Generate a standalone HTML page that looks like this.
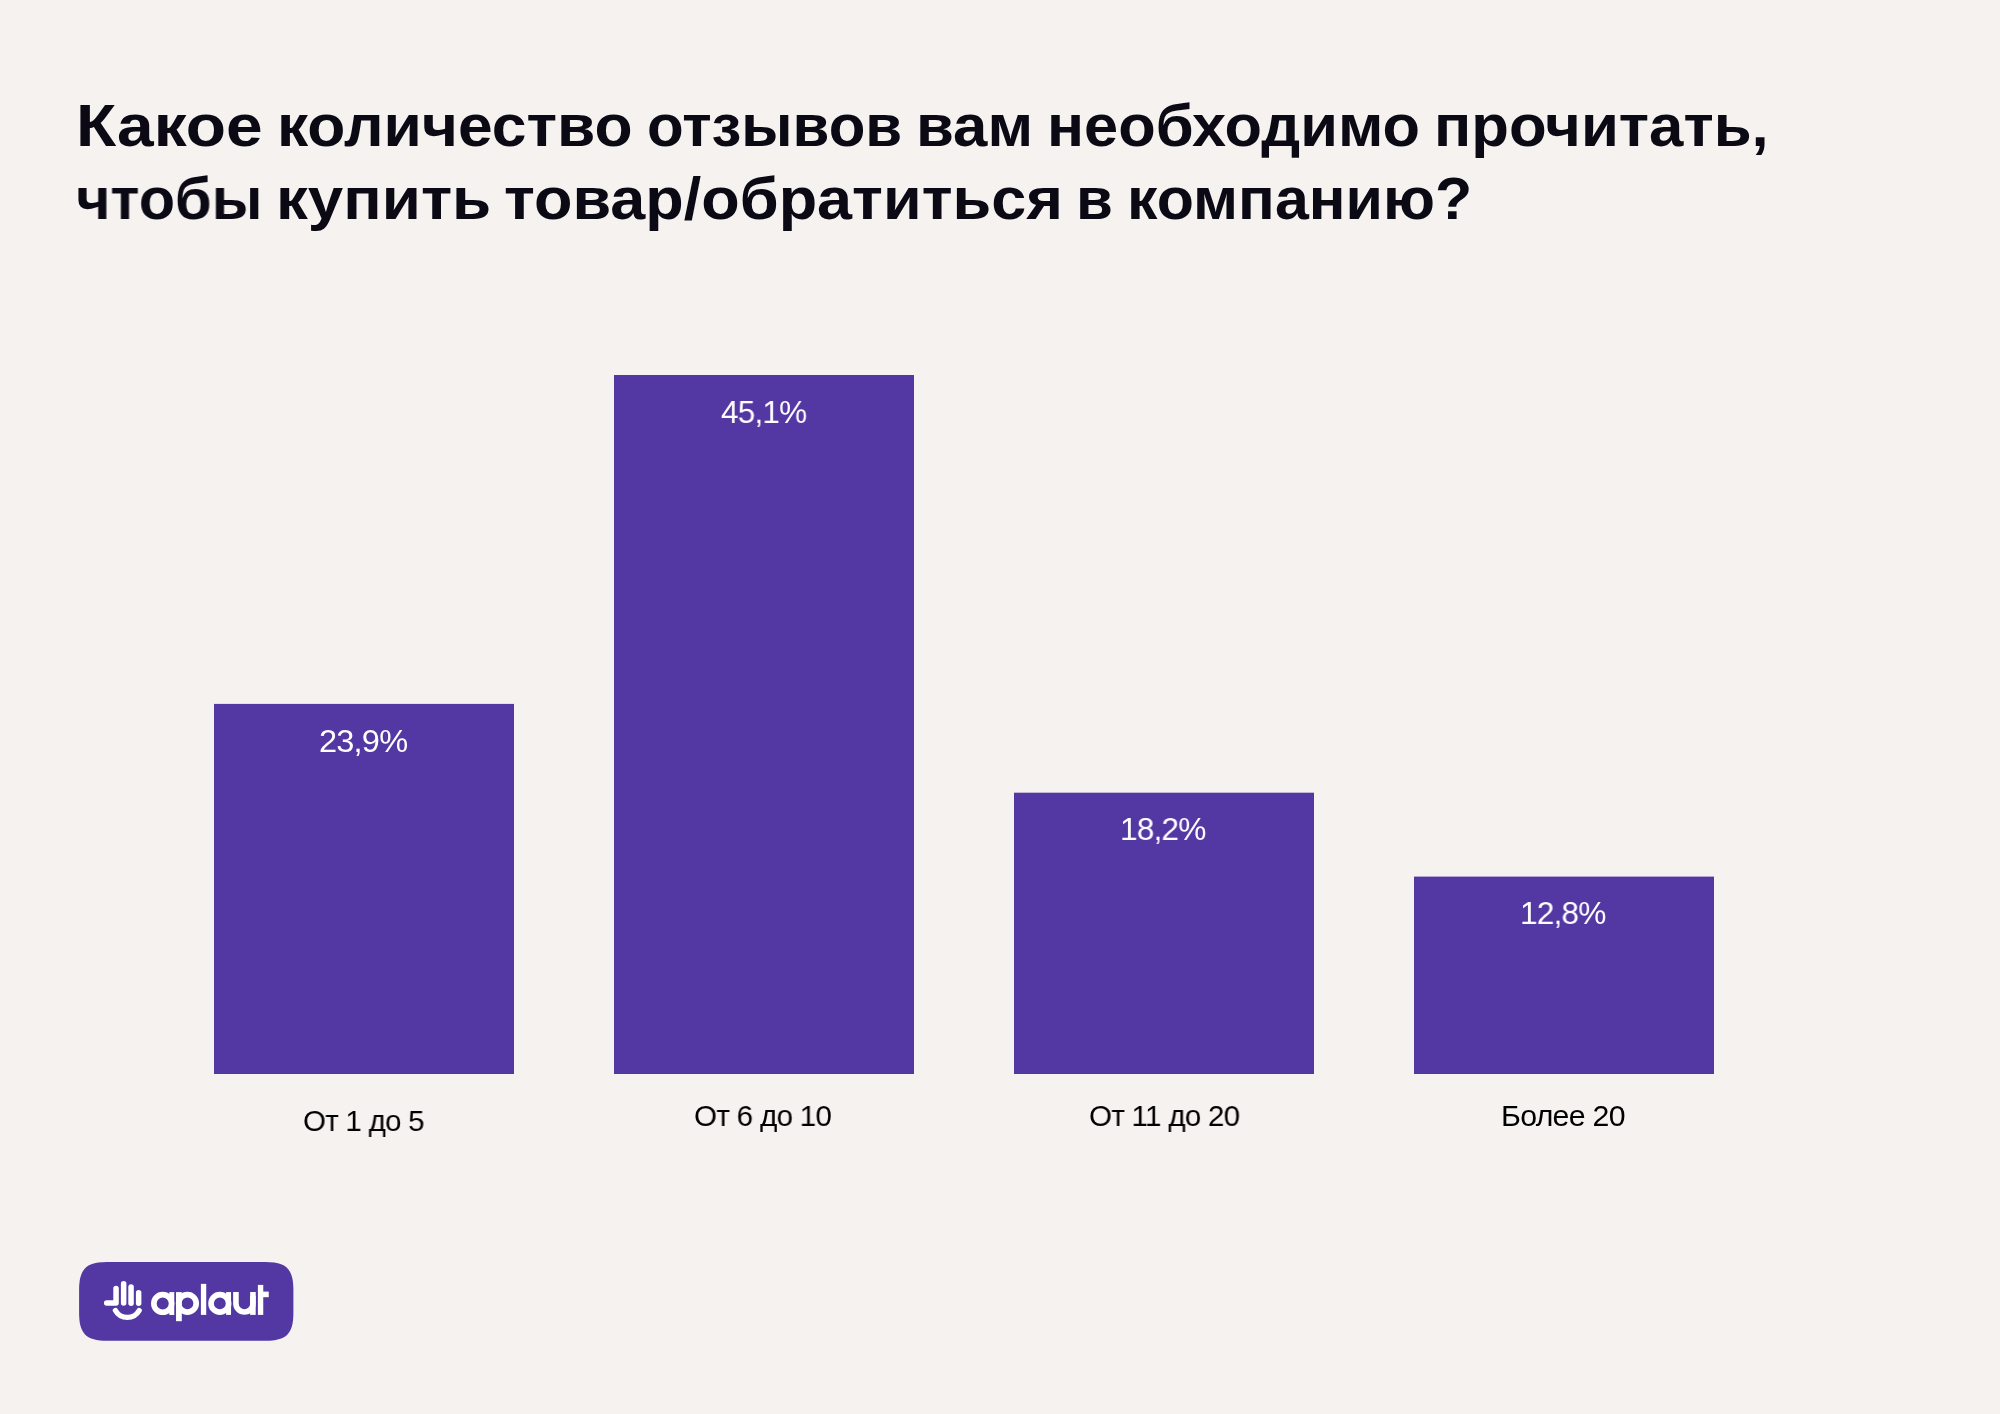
<!DOCTYPE html>
<html><head><meta charset="utf-8">
<style>
html,body{margin:0;padding:0;}
body{width:2000px;height:1414px;background:#F5F2EF;position:relative;overflow:hidden;font-family:"Liberation Sans",sans-serif;}
.t{position:absolute;will-change:transform;white-space:nowrap;font-weight:bold;font-size:60px;color:#0B0A14;line-height:1;transform-origin:0 0;}
.bar{position:absolute;width:300px;background:#5337A3;}
.v{position:absolute;will-change:transform;transform-origin:0 0;color:#fff;font-size:32px;letter-spacing:-0.8px;line-height:1;white-space:nowrap;}
.c{position:absolute;will-change:transform;transform-origin:0 0;color:#000;font-size:30px;letter-spacing:-0.7px;line-height:1;white-space:nowrap;}
svg{position:absolute;left:0;top:0;z-index:0;}
.t,.v,.c{z-index:1;}
</style></head><body>
<div class="t" style="left:75.61px;top:95.5px;transform:scaleX(1.0976)">Какое</div>
<div class="t" style="left:276.85px;top:95.5px;transform:scaleX(1.0387)">количество</div>
<div class="t" style="left:647.0px;top:95.5px;transform:scaleX(1.0)">отзывов</div>
<div class="t" style="left:915.89px;top:95.5px;transform:scaleX(1.0283)">вам</div>
<div class="t" style="left:1046.91px;top:95.5px;transform:scaleX(1.0223)">необходимо</div>
<div class="t" style="left:1433.89px;top:95.5px;transform:scaleX(1.0284)">прочитать,</div>
<div class="t" style="left:76.02px;top:168.5px;transform:scaleX(0.989)">чтобы</div>
<div class="t" style="left:275.76px;top:168.5px;transform:scaleX(1.0612)">купить</div>
<div class="t" style="left:503.9px;top:168.5px;transform:scaleX(1.0493)">товар/обратиться</div>
<div class="t" style="left:1076.0px;top:168.5px;transform:scaleX(1.0)">в</div>
<div class="t" style="left:1126.94px;top:168.5px;transform:scaleX(1.015)">компанию?</div>
<div class="v" style="left:319.06px;top:724.5px;transform:scaleX(1.0179)">23,9%</div>
<div class="v" style="left:721.22px;top:395.5px;transform:scaleX(0.9847)">45,1%</div>
<div class="v" style="left:1119.83px;top:813.3px;transform:scaleX(0.9869)">18,2%</div>
<div class="v" style="left:1519.83px;top:897.2px;transform:scaleX(0.9869)">12,8%</div>
<div class="c" style="left:303.42px;top:1106.3px;transform:scaleX(0.9803)">От 1 до 5</div>
<div class="c" style="left:694.11px;top:1101.2px;transform:scaleX(0.9855)">От 6 до 10</div>
<div class="c" style="left:1088.52px;top:1101.2px;transform:scaleX(0.9829)">От 11 до 20</div>
<div class="c" style="left:1501.38px;top:1101.2px;transform:scaleX(1.0092)">Более 20</div>
<svg width="2000" height="1414" viewBox="0 0 2000 1414">
<g fill="#5337A3">
<rect x="214" y="703.9" width="300" height="370.1"/>
<rect x="614" y="375" width="300" height="699"/>
<rect x="1014" y="792.7" width="300" height="281.3"/>
<rect x="1414" y="876.6" width="300" height="197.4"/>
</g>
<path fill="#5337A3" d="M79.1 1290.1 C79.1 1269.1 86.1 1262.1 107.1 1262.1 L265.4 1262.1 C286.4 1262.1 293.4 1269.1 293.4 1290.1 L293.4 1312.8 C293.4 1333.8 286.4 1340.8 265.4 1340.8 L107.1 1340.8 C86.1 1340.8 79.1 1333.8 79.1 1312.8 Z"/>
<g stroke="#fff" stroke-width="5.5" stroke-linecap="round" stroke-linejoin="round" fill="none">
<path d="M106.7 1302.9 L116.05 1302.9 L116.05 1288.6"/>
<path d="M123.65 1283.75 L123.65 1302.95"/>
<path d="M131.05 1286.95 L131.05 1303.25"/>
<path d="M138.65 1292.85 L138.65 1303.25"/>
<path stroke-width="5.3" d="M115.4 1310.5 A13.7 13.7 0 0 0 139.2 1310.5"/>
</g>
<g fill="none" stroke="#fff">
<circle cx="162.7" cy="1303.4" r="8.85" stroke-width="5.65"/>
<circle cx="187.45" cy="1303.35" r="8.77" stroke-width="5.67"/>
<circle cx="219.83" cy="1303.4" r="8.77" stroke-width="5.66"/>
<path d="M235.93 1291.9 V1303.5 A8.51 8.51 0 0 0 252.95 1303.5 V1291.9" stroke-width="5.6"/>
</g>
<g fill="#fff">
<rect x="169.3" y="1292.1" width="4.95" height="22.86"/>
<rect x="176.03" y="1292.1" width="5.77" height="29.1"/>
<rect x="200.9" y="1283.86" width="5.34" height="31.04"/>
<rect x="226.1" y="1292.1" width="4.94" height="22.8"/>
<rect x="250.15" y="1296" width="5.55" height="18.9"/>
<rect x="257.9" y="1284.9" width="5.35" height="30"/>
<rect x="262.6" y="1291.6" width="6.15" height="5.6"/>
</g>
</svg>
</body></html>
